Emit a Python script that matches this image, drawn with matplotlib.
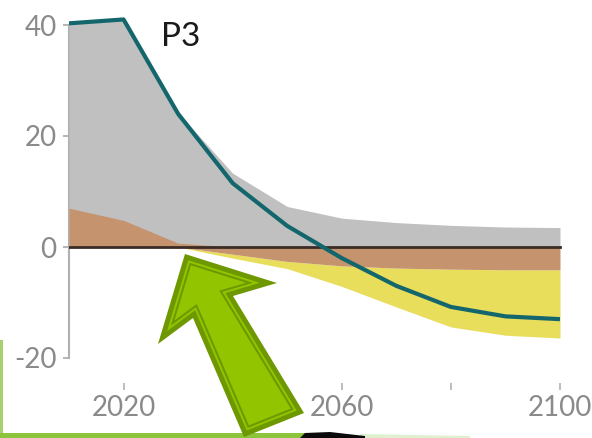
import numpy as np
import matplotlib.pyplot as plt
from matplotlib.patches import Polygon, Rectangle

plt.rcParams['font.family'] = ['Lato', 'DejaVu Sans']

# pathway P3 (GtCO2/yr)
years = [2010, 2020, 2030, 2040, 2050, 2060, 2070, 2080, 2090, 2100]
fossil = [40.3, 41.0, 24.2, 13.3, 7.3, 5.2, 4.4, 3.9, 3.6, 3.5]
afolu = [7.0, 4.8, 0.7, -1.3, -2.6, -3.4, -3.8, -4.0, -4.1, -4.1]
beccs = [0, 0, 0, -0.7, -1.3, -3.7, -7.0, -10.4, -11.8, -12.3]
net = [40.3, 41.0, 24.0, 11.5, 3.8, -2.0, -7.0, -10.8, -12.5, -13.0]

yticks = [-20, 0, 20, 40]
xticks_major = [2020, 2060, 2100]
xticks_minor = [2040, 2080]

W, H = 592, 438
fig = plt.figure(figsize=(W / 100, H / 100), dpi=100)

# axes placement in pixels
x0_px, x1_px = 69, 560
ylo, yhi = -24.5, 42
ppu = 5.55
top_px = 247 - yhi * ppu
bot_px = 247 - ylo * ppu
ax = fig.add_axes([x0_px / W, 1 - bot_px / H, (x1_px - x0_px) / W * 91 / 90, (bot_px - top_px) / H])
ax.set_xlim(2010, 2101)
ax.set_ylim(ylo, yhi)

yr = np.array(years)
afolu = np.array(afolu)
neg_afolu = np.minimum(afolu, 0)
pos_afolu = np.maximum(afolu, 0)

ax.fill_between(yr, 0, fossil, color='#c0c0c0', lw=0, zorder=3)
ax.fill_between(yr, 0, pos_afolu, color='#c5946f', lw=0, zorder=4)
ax.fill_between(yr, neg_afolu, neg_afolu + np.array(beccs), color='#e9dd5c', lw=0, zorder=3)
ax.fill_between(yr, 0, neg_afolu, color='#c5946f', lw=0, zorder=4)
ax.plot([years[0], years[-1]], [0, 0], color='#3a2b26', lw=2, zorder=5)
ax.plot(yr, net, color='#13676c', lw=3, zorder=6, solid_capstyle='butt')

for s in ['top', 'right', 'bottom']:
    ax.spines[s].set_visible(False)
ax.spines['left'].set_bounds(-20, 40)
ax.spines['left'].set_color('#b0b0b0')
ax.spines['left'].set_linewidth(1.5)
ax.spines['left'].set_zorder(2)

ax.set_yticks(yticks)
ax.set_yticklabels([str(v) for v in yticks])
ax.set_xticks(xticks_major)
ax.set_xticklabels([str(v) for v in xticks_major])
ax.set_xticks(xticks_minor, minor=True)
ax.tick_params(axis='y', direction='out', length=4, width=1.3, color='#b0b0b0',
               labelcolor='#8a8a8a', labelsize=20, pad=5)
ax.tick_params(axis='x', which='both', direction='out', length=5, width=1.3,
               color='#b8b8b8', labelcolor='#8a8a8a', labelsize=20, pad=4)

fig.text(161 / W, 1 - 46 / H, 'P3', fontsize=24, color='#1a1a1a', va='baseline', ha='left')

# overlay in pixel space
ov = fig.add_axes([0, 0, 1, 1], facecolor='none')
ov.set_xlim(0, W)
ov.set_ylim(H, 0)
ov.axis('off')


def inset(poly, d):
    p = np.array(poly, dtype=float)
    n = len(p)
    area = 0.5 * np.sum(p[:, 0] * np.roll(p[:, 1], -1) - np.roll(p[:, 0], -1) * p[:, 1])
    lines = []
    for i in range(n):
        a, b = p[i], p[(i + 1) % n]
        t = (b - a) / np.linalg.norm(b - a)
        nrm = np.array([-t[1], t[0]])
        if area < 0:
            nrm = -nrm
        lines.append((a + d * nrm, t))
    out = []
    for i in range(n):
        pa, ta = lines[i - 1]
        pb, tb = lines[i]
        m = np.array([ta, -tb]).T
        s, u = np.linalg.solve(m, pb - pa)
        out.append(pa + s * ta)
    return np.array(out)


arrow = [(185, 254), (158, 344), (193, 318), (244, 437), (304, 413), (233, 296), (277, 283)]
dark, light = '#6e9800', '#92c400'
for d, c in [(0, dark), (5, light), (7, dark), (9, light)]:
    ov.add_patch(Polygon(inset(arrow, d), closed=True, facecolor=c, edgecolor='none', zorder=10))

# background slivers at edges
ov.add_patch(Rectangle((0, 340), 3, 98, facecolor='#a8d070', edgecolor='none', zorder=1))
ov.add_patch(Rectangle((0, 433), 305, 5, facecolor='#8cc43c', edgecolor='none', zorder=1))
ov.add_patch(Polygon([(300, 438), (305, 433), (330, 432), (365, 436), (365, 438)],
                     facecolor='#0a0a0a', edgecolor='none', zorder=2))
ov.add_patch(Polygon([(360, 438), (360, 434), (470, 436), (470, 438)],
                     facecolor='#e0f0cf', edgecolor='none', zorder=1))

fig.savefig('out.png', dpi=100)
